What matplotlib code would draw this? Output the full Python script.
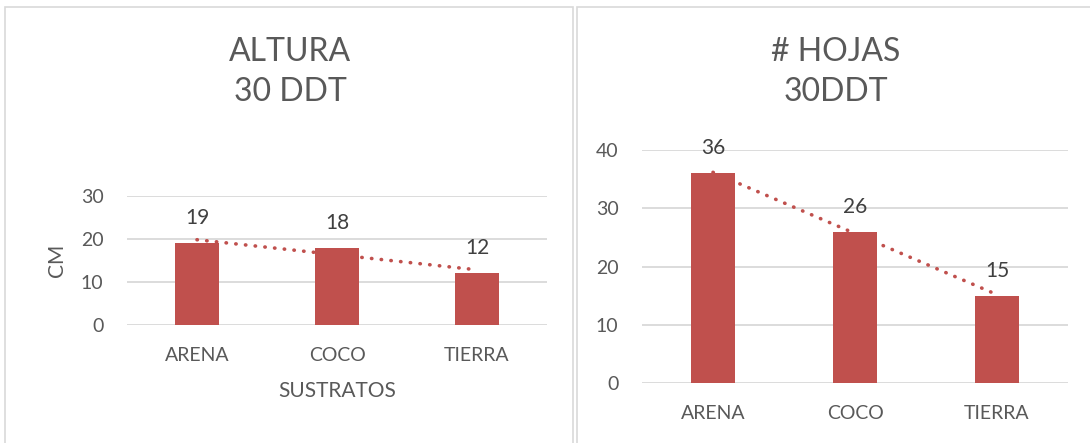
import numpy as np
import matplotlib.pyplot as plt
from matplotlib.patches import Rectangle

sustratos = ['ARENA', 'COCO', 'TIERRA']
altura = [19, 18, 12]
hojas = [36, 26, 15]

bar_color = '#C0504D'
text_color = '#595959'
grid_color = '#D9D9D9'

plt.rcParams['font.family'] = ['Lato', 'DejaVu Sans']

fig = plt.figure(figsize=(10.9, 4.43), dpi=100)

# chart area frames
fig.patches.append(Rectangle((5 / 1090, -0.1), 568 / 1090, 1.1 - 7 / 443, transform=fig.transFigure,
                             fill=False, edgecolor=grid_color, linewidth=1.2))
fig.patches.append(Rectangle((577 / 1090, -0.1), 0.6, 1.1 - 7 / 443, transform=fig.transFigure,
                             fill=False, edgecolor=grid_color, linewidth=1.2))


def draw(ax, values, ymax, step):
    x = np.arange(1, len(values) + 1)
    bars = ax.bar(x, values, width=0.31, color=bar_color, zorder=3)
    # linear trendline as in the original sheet
    k, b = np.polyfit(x, values, 1)
    ax.plot(x, k * x + b, color=bar_color, linewidth=2.6, linestyle=(0, (0.1, 2.6)),
            dash_capstyle='round', zorder=4)
    for rect, v in zip(bars, values):
        ax.annotate(str(v), (rect.get_x() + rect.get_width() / 2, v), xytext=(0, 18),
                    textcoords='offset points', ha='center', va='center',
                    fontsize=15, color='#404040', zorder=5)
    ax.set_xlim(0.5, len(values) + 0.5)
    ax.set_ylim(0, ymax)
    ax.set_yticks(np.arange(0, ymax + 1, step))
    ax.set_xticks(x)
    ax.set_xticklabels(sustratos)
    ax.grid(axis='y', color=grid_color, linewidth=1.3, zorder=0)
    ax.set_axisbelow(True)
    for s in ax.spines.values():
        s.set_visible(False)
    ax.tick_params(length=0, labelsize=14, labelcolor=text_color)
    ax.tick_params(axis='x', pad=16)
    ax.tick_params(axis='y', pad=17)


ax1 = fig.add_axes([127 / 1090, 1 - 325 / 443, 420 / 1090, 129 / 443])
draw(ax1, altura, 30, 10)
ax1.set_ylabel('CM', fontsize=15, color=text_color, labelpad=10)
ax1.set_xlabel('SUSTRATOS', fontsize=15, color=text_color, labelpad=12)
fig.text(290 / 1090, 1 - 72 / 443, 'ALTURA\n30 DDT', ha='center', va='center',
         fontsize=23, color=text_color, linespacing=1.4)

ax2 = fig.add_axes([642 / 1090, 1 - 383 / 443, 426 / 1090, 233 / 443])
draw(ax2, hojas, 40, 10)
fig.text(836 / 1090, 1 - 72 / 443, '# HOJAS\n30DDT', ha='center', va='center',
         fontsize=23, color=text_color, linespacing=1.4)

fig.savefig('out.png', dpi=100)
